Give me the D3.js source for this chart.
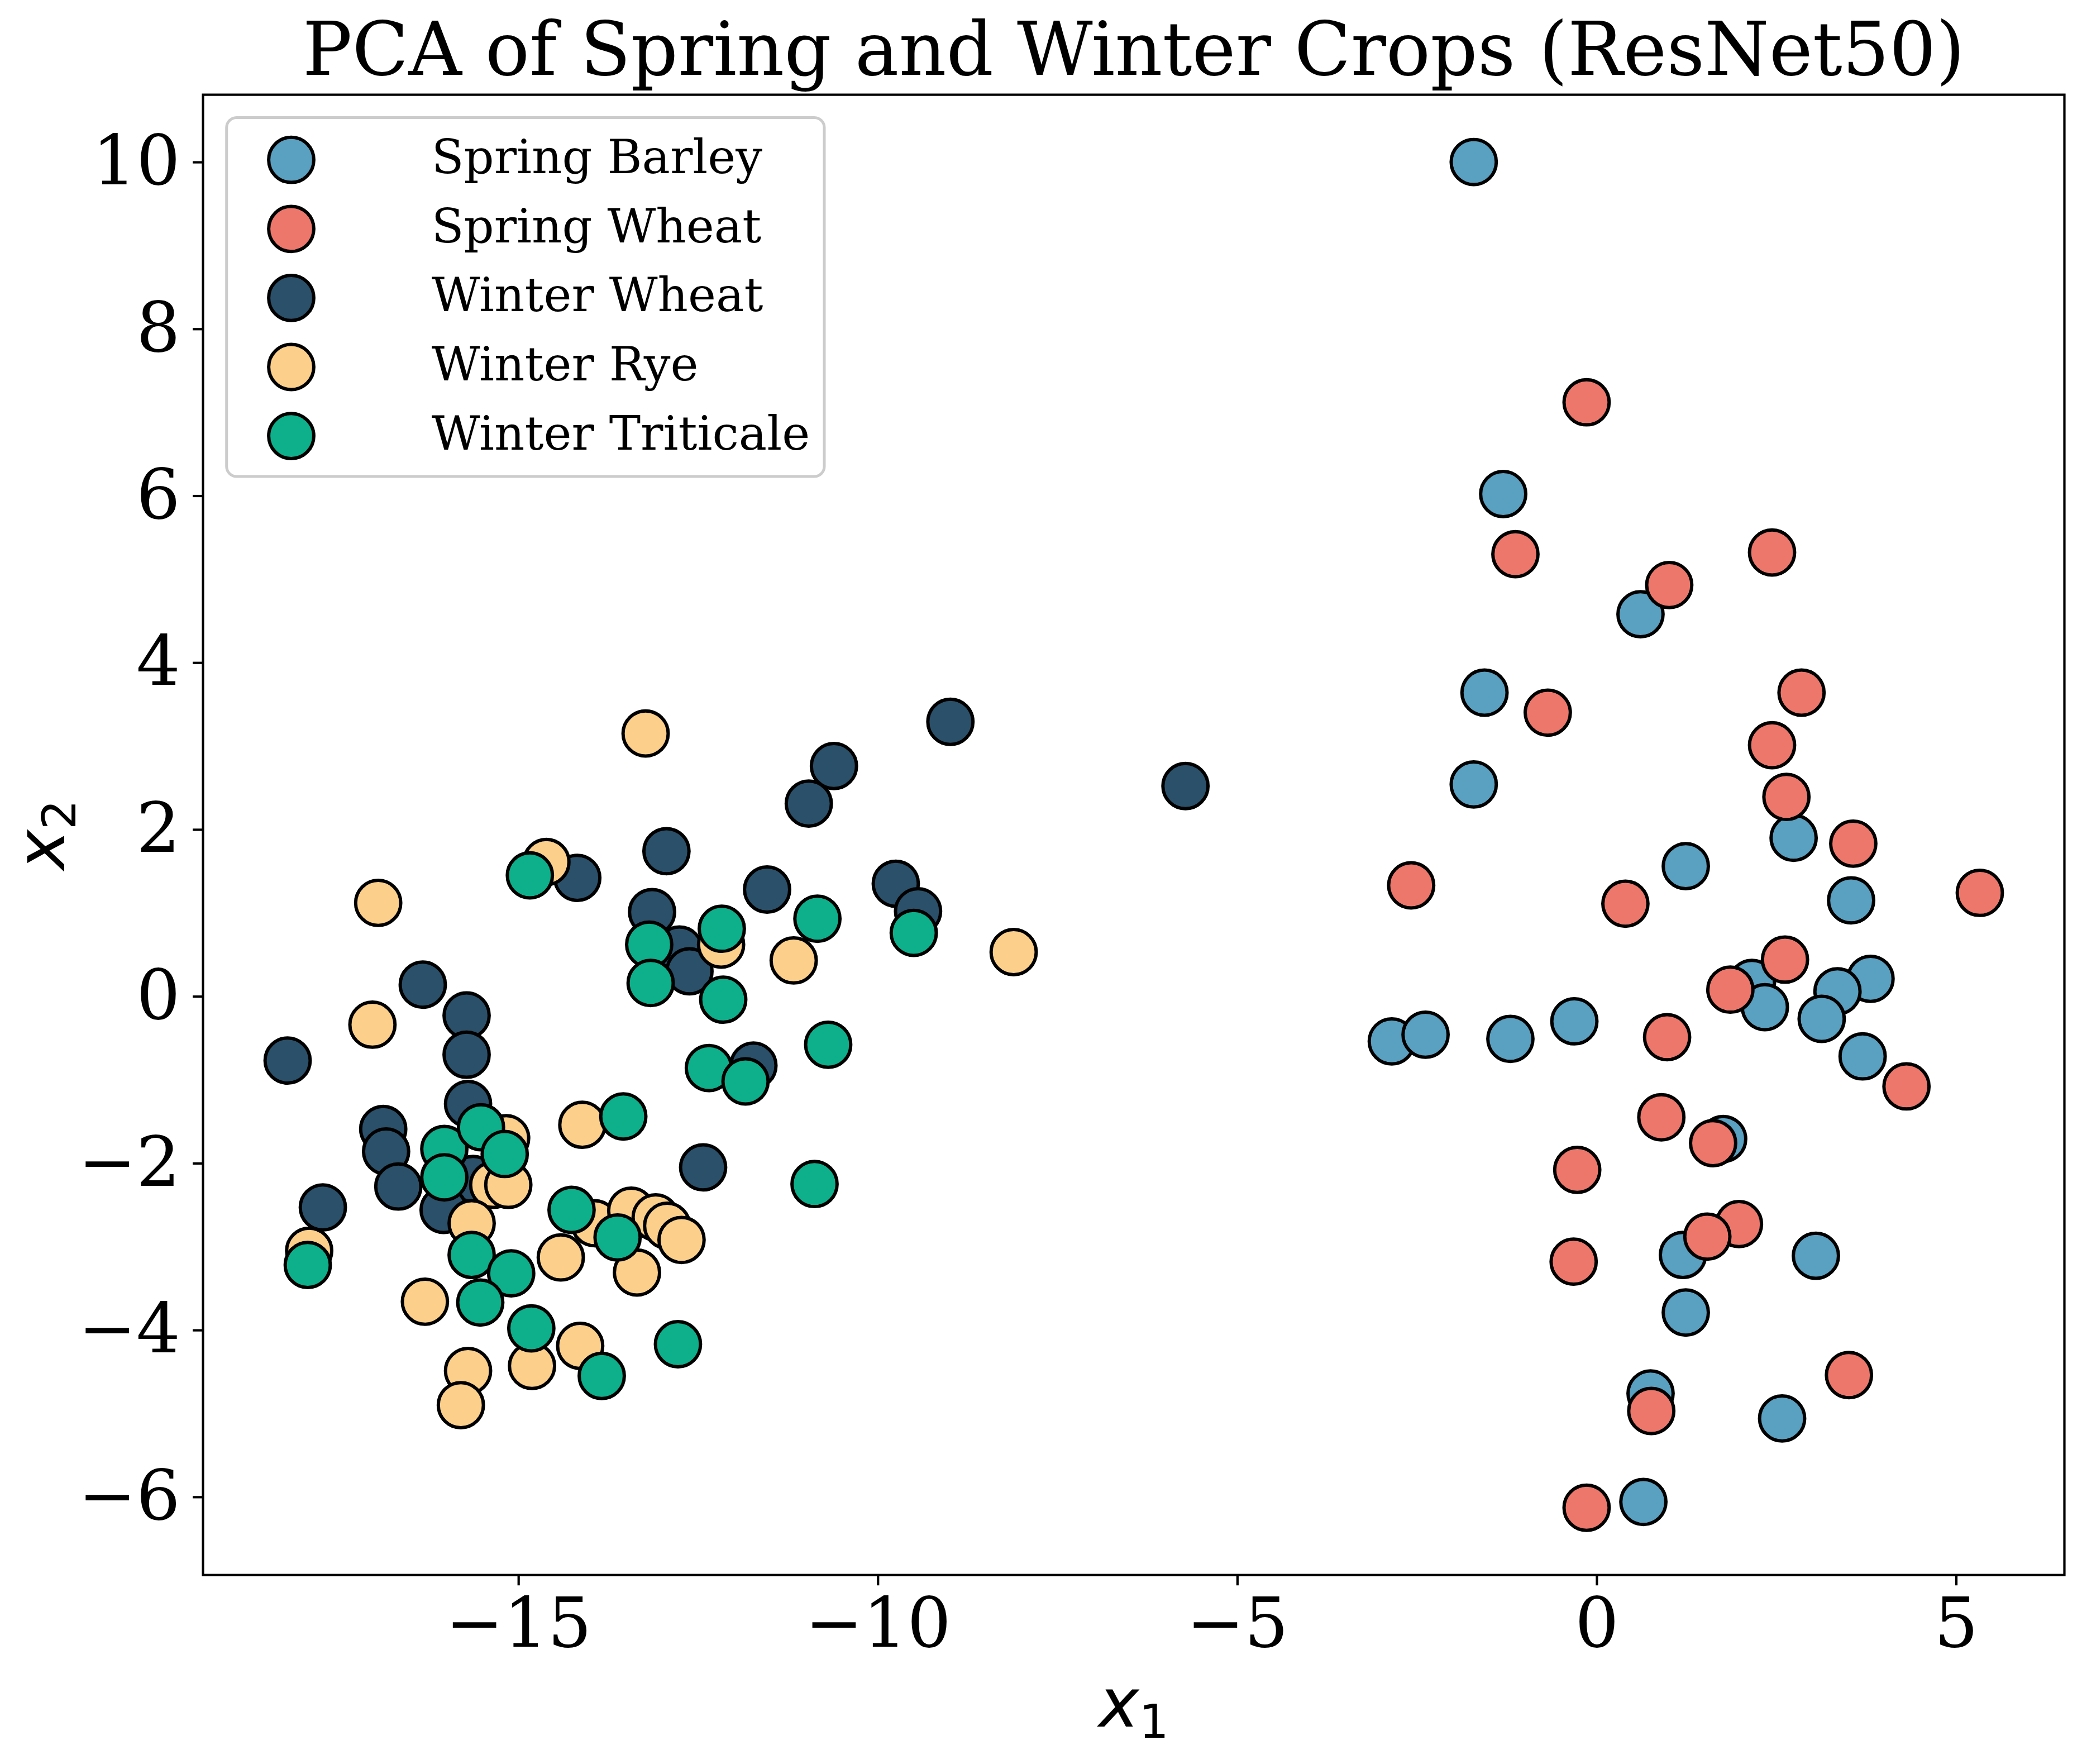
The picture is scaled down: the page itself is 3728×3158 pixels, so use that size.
<!DOCTYPE html>
<html>
<head>
<meta charset="utf-8">
<script src="https://cdn.jsdelivr.net/npm/d3@7"></script>
<style>
  body { margin: 0; background: #fff; }
  text { font-family: "DejaVu Serif", serif; }
</style>
</head>
<body>
<div id="chart"></div>
<script>
// Series (drawn in this order, as in the legend)
const seriesNames = ["Spring Barley", "Spring Wheat", "Winter Wheat", "Winter Rye", "Winter Triticale"];
const seriesColors = ["#5aa0c0", "#ee776c", "#2b5069", "#fcd08b", "#0db08a"];

// [x1, x2]
const springBarley = [
  [-1.71, 10.00], [-1.30, 6.02], [0.61, 4.58], [-1.56, 3.64], [-1.71, 2.54],
  [2.74, 1.90], [1.24, 1.56], [3.54, 1.15], [2.16, 0.16], [2.34, -0.13],
  [3.81, 0.21], [3.35, 0.06], [3.13, -0.27], [3.70, -0.72], [-2.85, -0.54],
  [-2.38, -0.46], [-1.20, -0.51], [-0.31, -0.30], [1.76, -1.71], [1.20, -3.10],
  [3.05, -3.11], [1.24, -3.79], [0.75, -4.76], [2.58, -5.06], [0.65, -6.06]
];
const springWheat = [
  [-0.14, 7.12], [-1.13, 5.30], [1.01, 4.93], [2.44, 5.32], [-0.68, 3.40],
  [2.85, 3.64], [2.44, 3.01], [2.64, 2.39], [3.57, 1.83], [-2.58, 1.33],
  [0.40, 1.11], [5.33, 1.24], [2.62, 0.44], [1.86, 0.08], [4.31, -1.08],
  [0.98, -0.49], [0.90, -1.45], [1.62, -1.76], [-0.27, -2.08], [1.98, -2.73],
  [1.54, -2.88], [-0.32, -3.18], [3.51, -4.54], [0.76, -4.97], [-0.14, -6.13]
];
const winterWheat = [
  [-14.18, 1.42], [-12.94, 1.74], [-13.14, 1.01], [-16.33, 0.14], [-15.72, -0.23],
  [-15.72, -0.70], [-18.21, -0.77], [-15.70, -1.29], [-16.88, -1.59], [-16.84, -1.86],
  [-16.67, -2.28], [-15.63, -2.19], [-16.04, -2.56], [-17.72, -2.53], [-8.99, 3.29],
  [-10.61, 2.76], [-10.96, 2.31], [-11.54, 1.28], [-9.75, 1.35], [-9.44, 1.02],
  [-12.76, 0.56], [-12.62, 0.30], [-11.73, -0.83], [-12.43, -2.05], [-5.72, 2.52]
];
const winterRye = [
  [-13.23, 3.15], [-14.61, 1.61], [-16.95, 1.12], [-17.03, -0.34], [-15.17, -1.70],
  [-15.35, -2.26], [-15.14, -2.26], [-15.65, -2.72], [-16.30, -3.66], [-17.91, -3.05],
  [-14.11, -1.54], [-13.94, -2.72], [-14.41, -3.13], [-13.43, -2.57], [-13.09, -2.65],
  [-13.35, -3.31], [-12.93, -2.75], [-12.73, -2.92], [-14.81, -4.43], [-14.14, -4.19],
  [-15.70, -4.49], [-15.80, -4.90], [-8.11, 0.53], [-11.17, 0.43], [-12.18, 0.62]
];
const winterTriticale = [
  [-14.84, 1.45], [-13.18, 0.62], [-13.16, 0.16], [-16.03, -1.83], [-15.52, -1.57],
  [-15.19, -1.89], [-16.03, -2.17], [-15.65, -3.10], [-15.10, -3.32], [-15.53, -3.67],
  [-17.93, -3.22], [-13.54, -1.44], [-14.26, -2.56], [-13.62, -2.89], [-14.82, -3.98],
  [-13.84, -4.55], [-12.78, -4.17], [-9.50, 0.76], [-10.84, 0.93], [-12.17, 0.81],
  [-12.15, -0.04], [-10.69, -0.58], [-12.35, -0.86], [-11.84, -1.02], [-10.88, -2.25]
];

const xTicks = [-15, -10, -5, 0, 5];
const yTicks = [-6, -4, -2, 0, 2, 4, 6, 8, 10];

const titleText = "PCA of Spring and Winter Crops (ResNet50)";

const seriesData = [springBarley, springWheat, winterWheat, winterRye, winterTriticale];
const series = seriesNames.map((name, i) => ({ name, color: seriesColors[i], points: seriesData[i] }));

// Basic set up
const W = 3728, H = 3158;
const margin = { left: 363.5, top: 169.6, right: 31.5, bottom: 338.3 };
const width = W - margin.left - margin.right;
const height = H - margin.top - margin.bottom;

const svg = d3.select("#chart").append("svg")
  .attr("width", W)
  .attr("height", H);

svg.append("rect").attr("width", W).attr("height", H).attr("fill", "#fff");

const g = svg.append("g")
  .attr("transform", "translate(" + margin.left + "," + margin.top + ")");

// Scales with 5% padding, like matplotlib's default margins
const allPts = series.flatMap(s => s.points);
const xExt = d3.extent(allPts, d => d[0]);
const yExt = d3.extent(allPts, d => d[1]);
const dx = xExt[1] - xExt[0], dy = yExt[1] - yExt[0];
const x = d3.scaleLinear().domain([xExt[0] - 0.05 * dx, xExt[1] + 0.05 * dx]).range([0, width]);
const y = d3.scaleLinear().domain([yExt[0] - 0.05 * dy, yExt[1] + 0.05 * dy]).range([height, 0]);

// Points
const markerR = 40.4, markerEdge = 6;
series.forEach(s => {
  g.append("g")
    .selectAll("circle")
    .data(s.points)
    .join("circle")
      .attr("cx", d => x(d[0]))
      .attr("cy", d => y(d[1]))
      .attr("r", markerR)
      .attr("fill", s.color)
      .attr("stroke", "#000")
      .attr("stroke-width", markerEdge);
});

// Axes
const tickLen = 18.5, tickW = 4.2, tickFont = 124;

const xAxisG = g.append("g")
  .attr("transform", "translate(0," + height + ")")
  .call(d3.axisBottom(x).tickValues(xTicks).tickSize(tickLen).tickPadding(22).tickFormat(d3.format("d")));

const yAxisG = g.append("g")
  .call(d3.axisLeft(y).tickValues(yTicks).tickSize(tickLen).tickPadding(22).tickFormat(d3.format("d")));

[xAxisG, yAxisG].forEach(a => {
  a.select(".domain").remove();
  a.attr("font-family", null).attr("font-size", null);
  a.selectAll("line").attr("stroke", "#000").attr("stroke-width", tickW);
  a.selectAll("text")
    .attr("fill", "#000")
    .style("font-family", "'DejaVu Serif', serif")
    .style("font-size", tickFont + "px");
});

// Frame
g.append("rect")
  .attr("width", width)
  .attr("height", height)
  .attr("fill", "none")
  .attr("stroke", "#000")
  .attr("stroke-width", tickW);

// Legend
const legend = g.append("g").attr("transform", "translate(42.2,40.8)");
legend.append("rect")
  .attr("width", 1070.3)
  .attr("height", 642.6)
  .attr("rx", 18)
  .attr("fill", "#fff")
  .attr("fill-opacity", 0.8)
  .attr("stroke", "#cccccc")
  .attr("stroke-width", 5);

const rows = legend.selectAll(".row")
  .data(series)
  .join("g")
    .attr("class", "row")
    .attr("transform", (d, i) => "translate(0," + (75.8 + i * 123.6) + ")");

rows.append("circle")
  .attr("cx", 115.8)
  .attr("r", markerR)
  .attr("fill", d => d.color)
  .attr("stroke", "#000")
  .attr("stroke-width", markerEdge);

rows.append("text")
  .attr("x", 367)
  .attr("y", 24)
  .style("font-size", "84.5px")
  .attr("fill", "#000")
  .text(d => d.name);

// Title
svg.append("text")
  .attr("x", margin.left + width / 2)
  .attr("y", 134)
  .attr("text-anchor", "middle")
  .style("font-size", "132px")
  .attr("fill", "#000")
  .text(titleText);

// Axis labels (math italic x with subscript)
function mathLabel(sel, sub) {
  sel.append("tspan")
    .style("font-family", "'DejaVu Sans', sans-serif")
    .style("font-style", "italic")
    .text("x");
  sel.append("tspan")
    .attr("dy", 20)
    .style("font-family", "'DejaVu Sans', sans-serif")
    .style("font-size", "84px")
    .text(sub);
}

const xLabel = svg.append("text")
  .attr("x", margin.left + width / 2)
  .attr("y", 3091)
  .attr("text-anchor", "middle")
  .style("font-size", "122px")
  .attr("fill", "#000");
mathLabel(xLabel, "1");

const yLabel = svg.append("text")
  .attr("transform", "translate(115," + (margin.top + height / 2) + ") rotate(-90)")
  .attr("text-anchor", "middle")
  .style("font-size", "122px")
  .attr("fill", "#000");
mathLabel(yLabel, "2");
</script>
</body>
</html>
